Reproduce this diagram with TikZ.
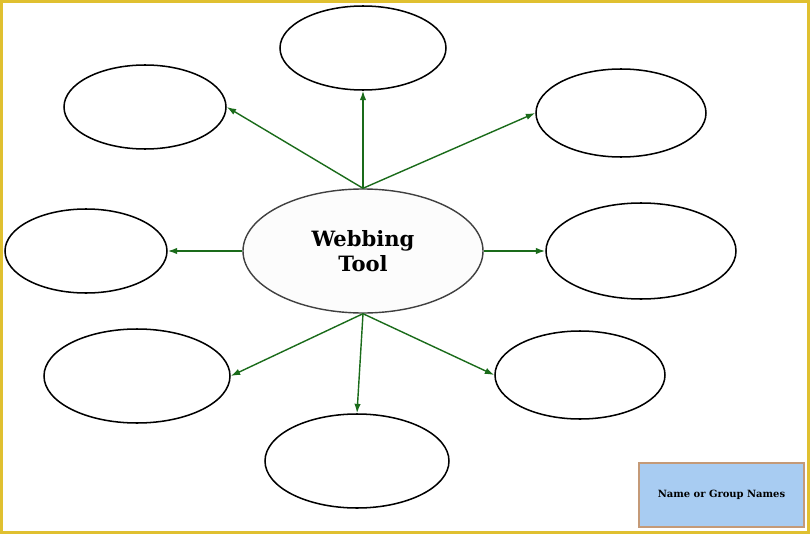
\documentclass[tikz,border=0pt]{standalone}
\usepackage{fontspec}
\setmainfont{DejaVu Serif}
\usetikzlibrary{shapes.geometric,arrows.meta}
\definecolor{webgreen}{HTML}{1A6B1A}
\definecolor{framegold}{HTML}{E0C030}
\definecolor{namefill}{HTML}{A8CCF2}
\definecolor{nameedge}{HTML}{C49A78}
\begin{document}
\begin{tikzpicture}[x=0.03cm,y=-0.03cm]
		\tikzstyle{bubble}=[draw,shape=ellipse,line width=1.3pt,inner sep=0pt]
		\tikzstyle{hub}=[draw=black!75,shape=ellipse,line width=1.2pt,fill=black!1,inner sep=0pt,align=center,font=\bfseries\fontsize{18}{21}\selectfont]
		\tikzstyle{link}=[draw=webgreen,line width=1.2pt,-{Latex[length=8pt,width=5.5pt]}]

		\useasboundingbox (0,0) rectangle (810,534);
		\draw[framegold,line width=3pt] (1.5,1.5) rectangle (808.5,532.5);

		\node[hub,minimum width=240*0.03cm,minimum height=124*0.03cm](hub) at (363,251){Webbing\\Tool};

		\node[bubble,minimum width=166*0.03cm,minimum height=84*0.03cm](top) at (363,48){};
		\node[bubble,minimum width=162*0.03cm,minimum height=84*0.03cm](ul) at (145,107){};
		\node[bubble,minimum width=170*0.03cm,minimum height=88*0.03cm](ur) at (621,113){};
		\node[bubble,minimum width=162*0.03cm,minimum height=84*0.03cm](left) at (86,251){};
		\node[bubble,minimum width=190*0.03cm,minimum height=96*0.03cm](right) at (641,251){};
		\node[bubble,minimum width=186*0.03cm,minimum height=94*0.03cm](ll) at (137,376){};
		\node[bubble,minimum width=170*0.03cm,minimum height=88*0.03cm](lr) at (580,375){};
		\node[bubble,minimum width=184*0.03cm,minimum height=94*0.03cm](bottom) at (357,461){};

		\draw[link] (hub.north) -- (top.south);
		\draw[link] (hub.north) -- (ul.east);
		\draw[link] (hub.north) -- (ur.west);
		\draw[link] (hub.west) -- (left.east);
		\draw[link] (hub.east) -- (right.west);
		\draw[link] (hub.south) -- (ll.east);
		\draw[link] (hub.south) -- (bottom.north);
		\draw[link] (hub.south) -- (lr.west);

		\node[draw=nameedge,fill=namefill,line width=1.5pt,minimum width=165*0.03cm,minimum height=64*0.03cm,font=\bfseries\fontsize{8.5}{10}\selectfont](names) at (721.5,495){Name or Group Names};
\end{tikzpicture}
\end{document}
